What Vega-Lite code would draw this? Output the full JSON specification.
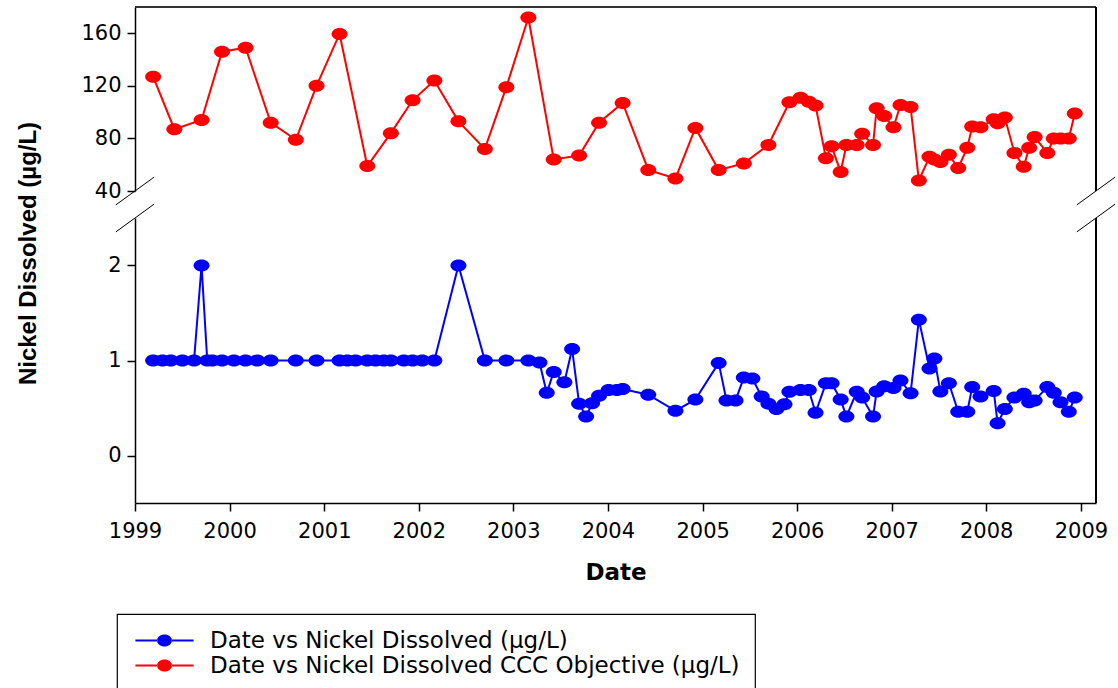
{
  "$schema": "https://vega.github.io/schema/vega-lite/v6.json",
  "background": "white",
  "padding": {"left": 16, "top": 6, "right": 0, "bottom": 0},
  "bounds": "flush",
  "spacing": 27,
  "config": {
    "view": {"stroke": null},
    "font": "DejaVu Sans",
    "axis": {"grid": false, "domainColor": "#000000", "domainWidth": 1.5, "tickColor": "#000000", "tickWidth": 1.5, "tickSize": 8, "labelFont": "DejaVu Sans", "labelFontSize": 21, "labelColor": "#000000", "titleColor": "#000000"},
    "legend": {"orient": "none", "legendX": -18, "legendY": 607, "direction": "vertical", "strokeColor": "#000000", "strokeWidth": 1.2, "fillColor": "white", "padding": 15, "symbolSize": 144, "symbolStrokeWidth": 0, "symbolOpacity": 1, "symbolOffset": 21, "labelFont": "DejaVu Sans", "labelFontSize": 23, "labelColor": "#000000", "labelLimit": 0, "labelOffset": 34, "rowPadding": 1}
  },
  "datasets": {
    "ccc": [
      {"d": "1999-03-12", "v": 127}, {"d": "1999-06-02", "v": 87}, {"d": "1999-09-15", "v": 94}, {"d": "1999-12-03", "v": 146},
      {"d": "2000-03-03", "v": 149}, {"d": "2000-06-08", "v": 92}, {"d": "2000-09-13", "v": 79}, {"d": "2000-12-02", "v": 120},
      {"d": "2001-03-01", "v": 159.5}, {"d": "2001-06-16", "v": 59}, {"d": "2001-09-15", "v": 84}, {"d": "2001-12-08", "v": 109},
      {"d": "2002-03-02", "v": 124}, {"d": "2002-06-03", "v": 93}, {"d": "2002-09-13", "v": 72}, {"d": "2002-12-05", "v": 119},
      {"d": "2003-02-28", "v": 172}, {"d": "2003-06-06", "v": 64}, {"d": "2003-09-12", "v": 67}, {"d": "2003-11-28", "v": 92},
      {"d": "2004-02-27", "v": 107}, {"d": "2004-06-05", "v": 56}, {"d": "2004-09-18", "v": 49.5}, {"d": "2004-12-04", "v": 88},
      {"d": "2005-03-04", "v": 56}, {"d": "2005-06-09", "v": 61}, {"d": "2005-09-12", "v": 75}, {"d": "2005-12-02", "v": 107.5},
      {"d": "2006-01-14", "v": 111}, {"d": "2006-02-15", "v": 108}, {"d": "2006-03-13", "v": 105}, {"d": "2006-04-22", "v": 65},
      {"d": "2006-05-14", "v": 74}, {"d": "2006-06-18", "v": 54.5}, {"d": "2006-07-10", "v": 75}, {"d": "2006-08-19", "v": 75},
      {"d": "2006-09-09", "v": 83.5}, {"d": "2006-10-21", "v": 75}, {"d": "2006-11-04", "v": 103}, {"d": "2006-12-03", "v": 97},
      {"d": "2007-01-08", "v": 88.5}, {"d": "2007-02-04", "v": 105.5}, {"d": "2007-03-15", "v": 104}, {"d": "2007-04-16", "v": 48},
      {"d": "2007-05-27", "v": 66}, {"d": "2007-06-15", "v": 64}, {"d": "2007-07-08", "v": 62}, {"d": "2007-08-10", "v": 67.5},
      {"d": "2007-09-15", "v": 57.5}, {"d": "2007-10-20", "v": 73}, {"d": "2007-11-08", "v": 89}, {"d": "2007-12-10", "v": 88.5},
      {"d": "2008-01-30", "v": 94.5}, {"d": "2008-02-14", "v": 91.5}, {"d": "2008-03-13", "v": 96}, {"d": "2008-04-19", "v": 69},
      {"d": "2008-05-25", "v": 58.5}, {"d": "2008-06-15", "v": 73}, {"d": "2008-07-06", "v": 81}, {"d": "2008-08-24", "v": 69},
      {"d": "2008-09-18", "v": 80}, {"d": "2008-10-14", "v": 80}, {"d": "2008-11-15", "v": 80}, {"d": "2008-12-08", "v": 99}
    ],
    "ni": [
      {"d": "1999-03-12", "v": 1}, {"d": "1999-04-17", "v": 1}, {"d": "1999-05-19", "v": 1}, {"d": "1999-07-03", "v": 1},
      {"d": "1999-08-17", "v": 1}, {"d": "1999-09-15", "v": 2}, {"d": "1999-10-07", "v": 1}, {"d": "1999-10-27", "v": 1},
      {"d": "1999-12-03", "v": 1}, {"d": "2000-01-18", "v": 1}, {"d": "2000-03-03", "v": 1}, {"d": "2000-04-17", "v": 1},
      {"d": "2000-06-08", "v": 1}, {"d": "2000-09-13", "v": 1}, {"d": "2000-12-02", "v": 1}, {"d": "2001-03-01", "v": 1},
      {"d": "2001-03-31", "v": 1}, {"d": "2001-05-02", "v": 1}, {"d": "2001-06-16", "v": 1}, {"d": "2001-07-18", "v": 1},
      {"d": "2001-08-19", "v": 1}, {"d": "2001-09-15", "v": 1}, {"d": "2001-11-04", "v": 1}, {"d": "2001-12-08", "v": 1},
      {"d": "2002-01-14", "v": 1}, {"d": "2002-03-02", "v": 1}, {"d": "2002-06-03", "v": 2}, {"d": "2002-09-13", "v": 1},
      {"d": "2002-12-05", "v": 1}, {"d": "2003-02-28", "v": 1}, {"d": "2003-04-12", "v": 0.98}, {"d": "2003-05-10", "v": 0.66},
      {"d": "2003-06-06", "v": 0.88}, {"d": "2003-07-17", "v": 0.77}, {"d": "2003-08-16", "v": 1.12}, {"d": "2003-09-12", "v": 0.545},
      {"d": "2003-10-09", "v": 0.41}, {"d": "2003-11-01", "v": 0.55}, {"d": "2003-11-28", "v": 0.63}, {"d": "2004-01-04", "v": 0.69},
      {"d": "2004-02-05", "v": 0.69}, {"d": "2004-02-27", "v": 0.7}, {"d": "2004-06-05", "v": 0.64}, {"d": "2004-09-18", "v": 0.47},
      {"d": "2004-12-04", "v": 0.59}, {"d": "2005-03-04", "v": 0.975}, {"d": "2005-04-03", "v": 0.58}, {"d": "2005-05-08", "v": 0.58},
      {"d": "2005-06-09", "v": 0.82}, {"d": "2005-07-12", "v": 0.81}, {"d": "2005-08-17", "v": 0.62}, {"d": "2005-09-12", "v": 0.545},
      {"d": "2005-10-13", "v": 0.49}, {"d": "2005-11-13", "v": 0.54}, {"d": "2005-12-02", "v": 0.67}, {"d": "2006-01-14", "v": 0.69},
      {"d": "2006-02-15", "v": 0.69}, {"d": "2006-03-13", "v": 0.45}, {"d": "2006-04-22", "v": 0.76}, {"d": "2006-05-14", "v": 0.76},
      {"d": "2006-06-18", "v": 0.59}, {"d": "2006-07-10", "v": 0.41}, {"d": "2006-08-19", "v": 0.67}, {"d": "2006-09-09", "v": 0.61},
      {"d": "2006-10-21", "v": 0.41}, {"d": "2006-11-04", "v": 0.675}, {"d": "2006-12-03", "v": 0.73}, {"d": "2007-01-08", "v": 0.71},
      {"d": "2007-02-04", "v": 0.79}, {"d": "2007-03-15", "v": 0.655}, {"d": "2007-04-16", "v": 1.43}, {"d": "2007-05-27", "v": 0.915},
      {"d": "2007-06-15", "v": 1.02}, {"d": "2007-07-08", "v": 0.675}, {"d": "2007-08-10", "v": 0.76}, {"d": "2007-09-15", "v": 0.46},
      {"d": "2007-10-20", "v": 0.46}, {"d": "2007-11-08", "v": 0.72}, {"d": "2007-12-10", "v": 0.62}, {"d": "2008-01-30", "v": 0.68},
      {"d": "2008-02-14", "v": 0.34}, {"d": "2008-03-13", "v": 0.49}, {"d": "2008-04-19", "v": 0.61}, {"d": "2008-05-25", "v": 0.65},
      {"d": "2008-06-15", "v": 0.56}, {"d": "2008-07-06", "v": 0.58}, {"d": "2008-08-24", "v": 0.72}, {"d": "2008-09-18", "v": 0.66},
      {"d": "2008-10-14", "v": 0.56}, {"d": "2008-11-15", "v": 0.46}, {"d": "2008-12-08", "v": 0.61}
    ]
  },
  "resolve": {"scale": {"color": "shared"}, "legend": {"color": "shared"}},
  "vconcat": [
    {
      "width": 961,
      "height": 184,
      "layer": [
        {
          "data": {"name": "ccc"},
          "mark": {"type": "line", "color": "#ff0000", "strokeWidth": 2},
          "encoding": {
            "x": {"field": "d", "type": "temporal", "scale": {"type": "utc", "domain": [{"year": 1999, "month": 1, "date": 1, "utc": true}, {"year": 2009, "month": 2, "date": 28, "utc": true}]}, "axis": null},
            "y": {"field": "v", "type": "quantitative", "scale": {"domain": [40, 180], "nice": false, "zero": false}, "axis": {"values": [40, 80, 120, 160], "format": "d", "title": null, "labelPadding": 6}}
          }
        },
        {
          "data": {"name": "ccc"},
          "mark": {"type": "point", "shape": "M-1,0A1,0.75 0 1,0 1,0A1,0.75 0 1,0 -1,0Z", "size": 256, "filled": true, "opacity": 1, "strokeWidth": 0},
          "encoding": {
            "x": {"field": "d", "type": "temporal"},
            "y": {"field": "v", "type": "quantitative"},
            "color": {"datum": "Date vs Nickel Dissolved CCC Objective (µg/L)", "type": "nominal", "scale": {"domain": ["Date vs Nickel Dissolved (µg/L)", "Date vs Nickel Dissolved CCC Objective (µg/L)"], "range": ["#0000ff", "#ff0000"]}, "legend": {"title": null, "symbolType": "M-4.85,-0.17H-1.2V0.17H-4.85ZM1.2,-0.17H4.85V0.17H1.2ZM-1.25,0A1.25,1 0 1,0 1.25,0A1.25,1 0 1,0 -1.25,0Z"}}
          }
        },
        {
          "data": {"values": [{}]},
          "mark": {"type": "rule", "color": "#333333", "strokeWidth": 2},
          "encoding": {"y": {"datum": 180, "type": "quantitative"}}
        },
        {
          "data": {"values": [{}]},
          "mark": {"type": "rule", "color": "#000000", "strokeWidth": 2},
          "encoding": {"x": {"datum": {"year": 2009, "month": 2, "date": 28, "utc": true}, "type": "temporal"}}
        },
        {
          "data": {"values": [{}]},
          "mark": {"type": "point", "shape": "M-1,0.726L1,-0.726", "size": 1467, "filled": false, "stroke": "#000000", "strokeWidth": 1, "opacity": 1, "clip": false},
          "encoding": {"x": {"datum": {"year": 1999, "month": 1, "date": 1, "utc": true}, "type": "temporal"}, "y": {"datum": 40, "type": "quantitative"}}
        },
        {
          "data": {"values": [{}]},
          "mark": {"type": "point", "shape": "M-1,0.726L1,-0.726", "size": 1467, "filled": false, "stroke": "#000000", "strokeWidth": 1, "opacity": 1, "clip": false},
          "encoding": {"x": {"datum": {"year": 2009, "month": 2, "date": 28, "utc": true}, "type": "temporal"}, "y": {"datum": 40, "type": "quantitative"}}
        }
      ]
    },
    {
      "width": 961,
      "height": 285,
      "layer": [
        {
          "data": {"name": "ni"},
          "mark": {"type": "line", "color": "#0000ff", "strokeWidth": 2},
          "encoding": {
            "x": {"field": "d", "type": "temporal", "scale": {"type": "utc", "domain": [{"year": 1999, "month": 1, "date": 1, "utc": true}, {"year": 2009, "month": 2, "date": 28, "utc": true}]}, "axis": {"title": "Date", "titleFont": "DejaVu Sans", "titleFontSize": 23, "titleFontWeight": "bold", "titlePadding": 20, "labelPadding": 9, "format": "%Y", "tickCount": {"interval": "year", "step": 1}, "labelFlush": false, "labelOverlap": false}},
            "y": {"field": "v", "type": "quantitative", "scale": {"domain": [-0.5, 2.5], "nice": false, "zero": false}, "axis": {"values": [0, 1, 2], "format": "d", "labelPadding": 6, "title": "Nickel Dissolved (µg/L)", "titleFont": "Liberation Sans", "titleFontSize": 24, "titleFontWeight": "bold", "titleX": -107, "titleY": 35, "titleBaseline": "middle", "titleAlign": "center", "titleAngle": 270}}
          }
        },
        {
          "data": {"name": "ni"},
          "mark": {"type": "point", "shape": "M-1,0A1,0.75 0 1,0 1,0A1,0.75 0 1,0 -1,0Z", "size": 256, "filled": true, "opacity": 1, "strokeWidth": 0},
          "encoding": {
            "x": {"field": "d", "type": "temporal"},
            "y": {"field": "v", "type": "quantitative"},
            "color": {"datum": "Date vs Nickel Dissolved (µg/L)", "type": "nominal", "scale": {"domain": ["Date vs Nickel Dissolved (µg/L)", "Date vs Nickel Dissolved CCC Objective (µg/L)"], "range": ["#0000ff", "#ff0000"]}, "legend": {"title": null, "symbolType": "M-4.85,-0.17H-1.2V0.17H-4.85ZM1.2,-0.17H4.85V0.17H1.2ZM-1.25,0A1.25,1 0 1,0 1.25,0A1.25,1 0 1,0 -1.25,0Z"}}
          }
        },
        {
          "data": {"values": [{}]},
          "mark": {"type": "rule", "color": "#000000", "strokeWidth": 2},
          "encoding": {"x": {"datum": {"year": 2009, "month": 2, "date": 28, "utc": true}, "type": "temporal"}}
        },
        {
          "data": {"values": [{}]},
          "mark": {"type": "point", "shape": "M-1,0.726L1,-0.726", "size": 1467, "filled": false, "stroke": "#000000", "strokeWidth": 1, "opacity": 1, "clip": false},
          "encoding": {"x": {"datum": {"year": 1999, "month": 1, "date": 1, "utc": true}, "type": "temporal"}, "y": {"datum": 2.5, "type": "quantitative"}}
        },
        {
          "data": {"values": [{}]},
          "mark": {"type": "point", "shape": "M-1,0.726L1,-0.726", "size": 1467, "filled": false, "stroke": "#000000", "strokeWidth": 1, "opacity": 1, "clip": false},
          "encoding": {"x": {"datum": {"year": 2009, "month": 2, "date": 28, "utc": true}, "type": "temporal"}, "y": {"datum": 2.5, "type": "quantitative"}}
        }
      ]
    }
  ]
}
